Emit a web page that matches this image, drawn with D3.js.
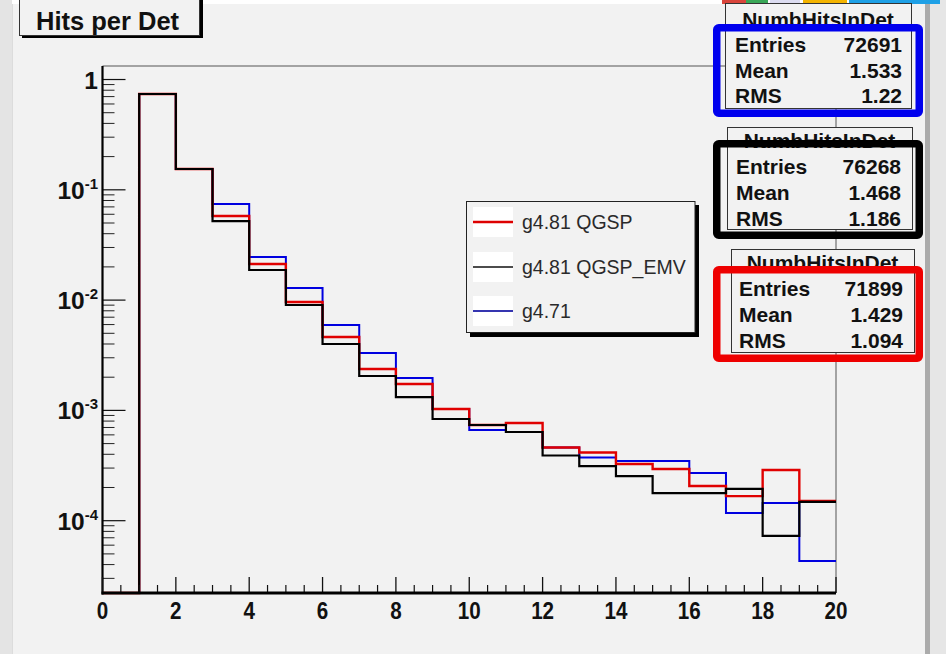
<!DOCTYPE html>
<html>
<head>
<meta charset="utf-8">
<script src="https://cdn.jsdelivr.net/npm/d3@7"></script>
<style>
  html, body { margin: 0; padding: 0; background: #f2f2f2; }
  svg { display: block; }
  text { font-family: "Liberation Sans", Arial, Helvetica, sans-serif; }
</style>
</head>
<body>
<svg id="chart" width="946" height="654"></svg>
<script>
// Bin edges: 20 unit-width bins from 0 to 20 hits
const binEdges = d3.range(0, 21);

// Normalised hits-per-detector distributions (one value per bin)
const qgspValues = [0, 0.739, 0.1544, 0.0579, 0.02125, 0.00961, 0.00463, 0.002373, 0.001735, 0.00103,
  0.000737, 0.000769, 0.000461, 0.000415, 0.000327, 0.000294, 0.000206, 0.000167, 0.000288, 0.000151];
const qgspEmvValues = [0, 0.739, 0.1544, 0.0521, 0.01875, 0.00903, 0.004, 0.00205, 0.001322, 0.000836,
  0.000737, 0.000637, 0.00039, 0.000313, 0.000254, 0.000178, 0.000178, 0.000194, 0.0000727, 0.000148];
const g471Values = [0, 0.739, 0.1544, 0.0743, 0.02458, 0.01287, 0.00595, 0.00331, 0.001966, 0.00103,
  0.000664, 0.000637, 0.000461, 0.000374, 0.000348, 0.000348, 0.000271, 0.0001174, 0.000145, 0.0000431];

const seriesNames = ["g4.81 QGSP", "g4.81 QGSP_EMV", "g4.71"];

// Statistics boxes (top to bottom)
const statTitles = ["NumbHitsInDet", "NumbHitsInDet", "NumbHitsInDet"];
const statEntries = ["72691", "76268", "71899"];
const statMeans = ["1.533", "1.468", "1.429"];
const statRms = ["1.22", "1.186", "1.094"];

const xTickValues = d3.range(0, 21, 2);
const yDecades = [1, 1e-1, 1e-2, 1e-3, 1e-4];
const yDecadeLabels = ["1", "-1", "-2", "-3", "-4"];

const svg = d3.select("#chart");
const W = 946, H = 654;

// ---- canvas / window chrome ----
svg.append("rect").attr("x", 0).attr("y", 0).attr("width", W).attr("height", H).attr("fill", "#f2f2f2");
svg.append("rect").attr("x", 0).attr("y", 0).attr("width", 12).attr("height", H).attr("fill", "#e4e4e4");
svg.append("rect").attr("x", 12).attr("y", 0).attr("width", 1).attr("height", H).attr("fill", "#dcdcdc");
svg.append("rect").attr("x", 925).attr("y", 0).attr("width", 5).attr("height", H).attr("fill", "#ababab");
svg.append("rect").attr("x", 930).attr("y", 0).attr("width", 16).attr("height", H).attr("fill", "#e6e6e6");
svg.append("rect").attr("x", 12).attr("y", 0).attr("width", 913).attr("height", 4).attr("fill", "#ffffff");
const chrome = svg.append("g");
[[722, 24, "#d9453b"], [746, 22, "#3aa757"], [770, 30, "#dcdcf0"], [803, 44, "#f4b400"], [849, 91, "#1ea0e6"]]
  .forEach(([x, w, c]) => chrome.append("rect").attr("x", x).attr("y", 0).attr("width", w).attr("height", 4).attr("fill", c));

// ---- plot frame ----
const m = { left: 102.5, right: 836, top: 66, bottom: 593 };
const x = d3.scaleLinear().domain([0, 20]).range([m.left, m.right]);
const y = d3.scaleLog().domain([2.21e-5, 1.326]).range([m.bottom, m.top]);
const yMin = y.domain()[0];
const yPos = v => y(v > yMin ? v : yMin);

svg.append("line").attr("x1", m.left).attr("x2", m.right).attr("y1", m.top).attr("y2", m.top)
  .attr("stroke", "#555").attr("stroke-width", 1);
svg.append("line").attr("x1", m.right).attr("x2", m.right).attr("y1", m.top).attr("y2", m.bottom)
  .attr("stroke", "#555").attr("stroke-width", 1);

// ---- histograms (step outlines) ----
const step = d3.line().x(d => x(d.x)).y(d => yPos(d.v)).curve(d3.curveStepAfter);
function histPoints(vals) {
  const pts = vals.map((v, i) => ({ x: binEdges[i], v }));
  pts.push({ x: binEdges[vals.length], v: vals[vals.length - 1] });
  return pts;
}
const hists = [
  { vals: g471Values, color: "#0000e0", width: 2 },
  { vals: qgspValues, color: "#e00000", width: 2.4 },
  { vals: qgspEmvValues, color: "#000000", width: 2.2 }
];
const plot = svg.append("g");
hists.forEach(h => {
  plot.append("path").attr("d", step(histPoints(h.vals)))
    .attr("fill", "none").attr("stroke", h.color).attr("stroke-width", h.width)
    .attr("stroke-linejoin", "miter");
});

// ---- y axis (log) ----
const yAxis = svg.append("g");
const yMinor = [];
for (let e = -5; e <= 0; e++) {
  for (let k = 2; k <= 9; k++) {
    const v = k * Math.pow(10, e);
    if (v >= yMin && v <= y.domain()[1]) yMinor.push(v);
  }
}
yAxis.selectAll("line.minor").data(yMinor).join("line")
  .attr("x1", m.left).attr("x2", m.left + 12).attr("y1", d => y(d)).attr("y2", d => y(d))
  .attr("stroke", "#222").attr("stroke-width", 1);
yAxis.selectAll("line.major").data(yDecades).join("line")
  .attr("x1", m.left).attr("x2", m.left + 23).attr("y1", d => y(d)).attr("y2", d => y(d))
  .attr("stroke", "#111").attr("stroke-width", 1.2);
yAxis.append("line").attr("x1", m.left).attr("x2", m.left).attr("y1", m.top).attr("y2", m.bottom + 1.5)
  .attr("stroke", "#000").attr("stroke-width", 2.2);
yDecades.forEach((d, i) => {
  const t = yAxis.append("text").attr("x", 98).attr("y", y(d) + 9)
    .attr("text-anchor", "end").attr("font-weight", "bold").attr("font-size", 24.5).attr("fill", "#111");
  if (i === 0) {
    t.text(yDecadeLabels[i]);
  } else {
    t.append("tspan").text("10");
    t.append("tspan").attr("dy", -10).attr("font-size", 15).text(yDecadeLabels[i]);
  }
});

// ---- x axis ----
const xAxis = svg.append("g");
const xMinor = d3.range(0, 20.01, 0.5).filter(v => v % 2 !== 0);
xAxis.selectAll("line.minor").data(xMinor).join("line")
  .attr("x1", d => x(d)).attr("x2", d => x(d)).attr("y1", m.bottom).attr("y2", m.bottom - 8)
  .attr("stroke", "#111").attr("stroke-width", 1.2);
xAxis.selectAll("line.major").data(xTickValues).join("line")
  .attr("x1", d => x(d)).attr("x2", d => x(d)).attr("y1", m.bottom).attr("y2", m.bottom - 16)
  .attr("stroke", "#111").attr("stroke-width", 1.3);
xAxis.append("line").attr("x1", m.left - 1).attr("x2", m.right).attr("y1", m.bottom).attr("y2", m.bottom)
  .attr("stroke", "#000").attr("stroke-width", 3);
xAxis.selectAll("text").data(xTickValues).join("text")
  .attr("transform", d => `translate(${x(d)},${619}) scale(0.86,1)`)
  .attr("text-anchor", "middle").attr("font-weight", "bold").attr("font-size", 24).attr("fill", "#111")
  .text(d => d);

// ---- title box ----
svg.append("rect").attr("x", 22).attr("y", -3).attr("width", 181).attr("height", 41).attr("fill", "#000");
svg.append("rect").attr("x", 19.5).attr("y", -4).attr("width", 180).attr("height", 39.5)
  .attr("fill", "#f2f2f2").attr("stroke", "#333").attr("stroke-width", 1);
svg.append("text").attr("x", 36).attr("y", 30).attr("font-weight", "bold").attr("font-size", 25.5)
  .attr("fill", "#111").text("Hits per Det");

// ---- legend ----
const leg = svg.append("g");
leg.append("rect").attr("x", 470).attr("y", 205).attr("width", 229).attr("height", 132).attr("fill", "#000");
leg.append("rect").attr("x", 466.5).attr("y", 201.5).attr("width", 228.5).attr("height", 131)
  .attr("fill", "#f2f2f2").attr("stroke", "#222").attr("stroke-width", 1);
const legItems = [
  { name: seriesNames[0], color: "#dd0000", width: 2.6, ly: 222 },
  { name: seriesNames[1], color: "#111111", width: 1.5, ly: 267 },
  { name: seriesNames[2], color: "#3535b0", width: 2.2, ly: 311 }
];
legItems.forEach(it => {
  leg.append("rect").attr("x", 473).attr("y", it.ly - 15).attr("width", 40).attr("height", 30).attr("fill", "#ffffff");
  leg.append("line").attr("x1", 473).attr("x2", 513).attr("y1", it.ly).attr("y2", it.ly)
    .attr("stroke", it.color).attr("stroke-width", it.width);
  leg.append("text").attr("x", 522).attr("y", it.ly + 7).attr("font-size", 19.5).attr("fill", "#2a2a2a").text(it.name);
});

// ---- statistics boxes with coloured highlight frames ----
const statBoxes = [
  { bx: 725, bw: 186, top: 3, bottom: 108, titleY: 27, rows: [51.5, 77.5, 103], lx: 735, rx: 902,
    hl: { x: 713, y: 24, w: 210, h: 93 }, color: "#0000ee" },
  { bx: 727, bw: 185, top: 127, bottom: 229, titleY: 148, rows: [174, 200, 226], lx: 736, rx: 901,
    hl: { x: 713, y: 140, w: 210, h: 99 }, color: "#000000" },
  { bx: 731, bw: 183, top: 249, bottom: 352, titleY: 270, rows: [296, 322, 348], lx: 739, rx: 903,
    hl: { x: 713, y: 266, w: 210, h: 96 }, color: "#ee0000" }
];
statBoxes.forEach((b, i) => {
  const g = svg.append("g");
  g.append("rect").attr("x", b.bx + 0.5).attr("y", b.top + 0.5).attr("width", b.bw).attr("height", b.bottom - b.top)
    .attr("fill", "#f2f2f2").attr("stroke", "#333").attr("stroke-width", 1);
  g.append("text").attr("x", b.bx + b.bw / 2).attr("y", b.titleY).attr("text-anchor", "middle")
    .attr("font-weight", "bold").attr("font-size", 21).attr("fill", "#111").text(statTitles[i]);
  const labels = ["Entries", "Mean", "RMS"];
  const vals = [statEntries[i], statMeans[i], statRms[i]];
  labels.forEach((lab, k) => {
    g.append("text").attr("x", b.lx).attr("y", b.rows[k]).attr("font-weight", "bold").attr("font-size", 21)
      .attr("fill", "#111").text(lab);
    g.append("text").attr("x", b.rx).attr("y", b.rows[k]).attr("text-anchor", "end").attr("font-weight", "bold")
      .attr("font-size", 21).attr("fill", "#111").text(vals[k]);
  });
  const sw = 7.5;
  g.append("rect").attr("x", b.hl.x + sw / 2).attr("y", b.hl.y + sw / 2)
    .attr("width", b.hl.w - sw).attr("height", b.hl.h - sw).attr("rx", 2)
    .attr("fill", "none").attr("stroke", b.color).attr("stroke-width", sw);
});
</script>
</body>
</html>
